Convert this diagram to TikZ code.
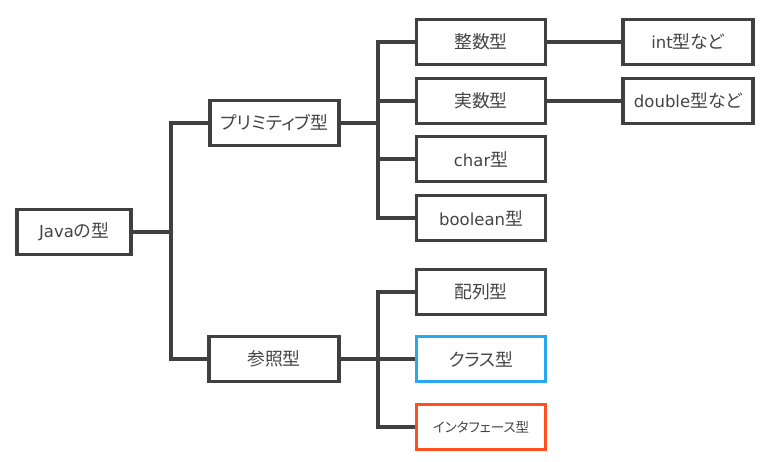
\documentclass[tikz,border=0pt]{standalone}
\usepackage{fontspec}
\setmainfont{DejaVu Sans}
\newfontfamily\jp[RawFeature=+palt, Scale=1.08]{Noto Sans CJK JP}
\newcommand{\J}[1]{{\jp #1}}
\definecolor{ln}{HTML}{404040}
\definecolor{tx}{HTML}{444444}
\definecolor{bl}{HTML}{29A8F0}
\definecolor{og}{HTML}{FF5020}
\tikzset{
  box/.style={draw=ln, line width=3.2pt, minimum height=45pt, text=tx, font=\fontsize{16.5}{19}\selectfont, inner sep=0pt},
  conn/.style={draw=ln, line width=3.2pt},
}
\begin{document}
\begin{tikzpicture}[x=1pt,y=-1pt]
\useasboundingbox (0,0) rectangle (768,462);
\node[box, minimum width=114pt] (java) at (74,232) {Java\J{の型}};
\node[box, minimum width=129pt] (prim) at (274.5,123) {\J{プリミティブ型}};
\node[box, minimum width=130pt] (ref) at (274,359) {\J{参照型}};
\node[box, minimum width=129pt] (int) at (481,42) {\J{整数型}};
\node[box, minimum width=129pt] (real) at (481,101) {\J{実数型}};
\node[box, minimum width=129pt] (char) at (481,159) {char\J{型}};
\node[box, minimum width=129pt] (bool) at (481,218) {boolean\J{型}};
\node[box, minimum width=129pt] (arr) at (481,292) {\J{配列型}};
\node[box, minimum width=129pt, draw=bl] (cls) at (481,359) {\J{クラス型}};
\node[box, minimum width=129pt, draw=og, font=\fontsize{12.5}{15}\selectfont] (intf) at (481,427) {\J{インタフェース型}};
\node[box, minimum width=130pt] (intx) at (688,42) {int\J{型など}};
\node[box, minimum width=130pt] (dbl) at (688,101) {double\J{型など}};
\coordinate (jb) at (171,232);
\coordinate (pb) at (378,123);
\coordinate (rb) at (378,359);
\draw[conn] (java.east) -- (jb) |- (prim.west);
\draw[conn] (jb) |- (ref.west);
\draw[conn] (prim.east) -- (pb) |- (int.west);
\draw[conn] (pb) |- (real.west);
\draw[conn] (pb) |- (char.west);
\draw[conn] (pb) |- (bool.west);
\draw[conn] (ref.east) -- (cls.west);
\draw[conn] (rb) |- (arr.west);
\draw[conn] (rb) |- (intf.west);
\draw[conn] (int.east) -- (intx.west);
\draw[conn] (real.east) -- (dbl.west);
\end{tikzpicture}
\end{document}
